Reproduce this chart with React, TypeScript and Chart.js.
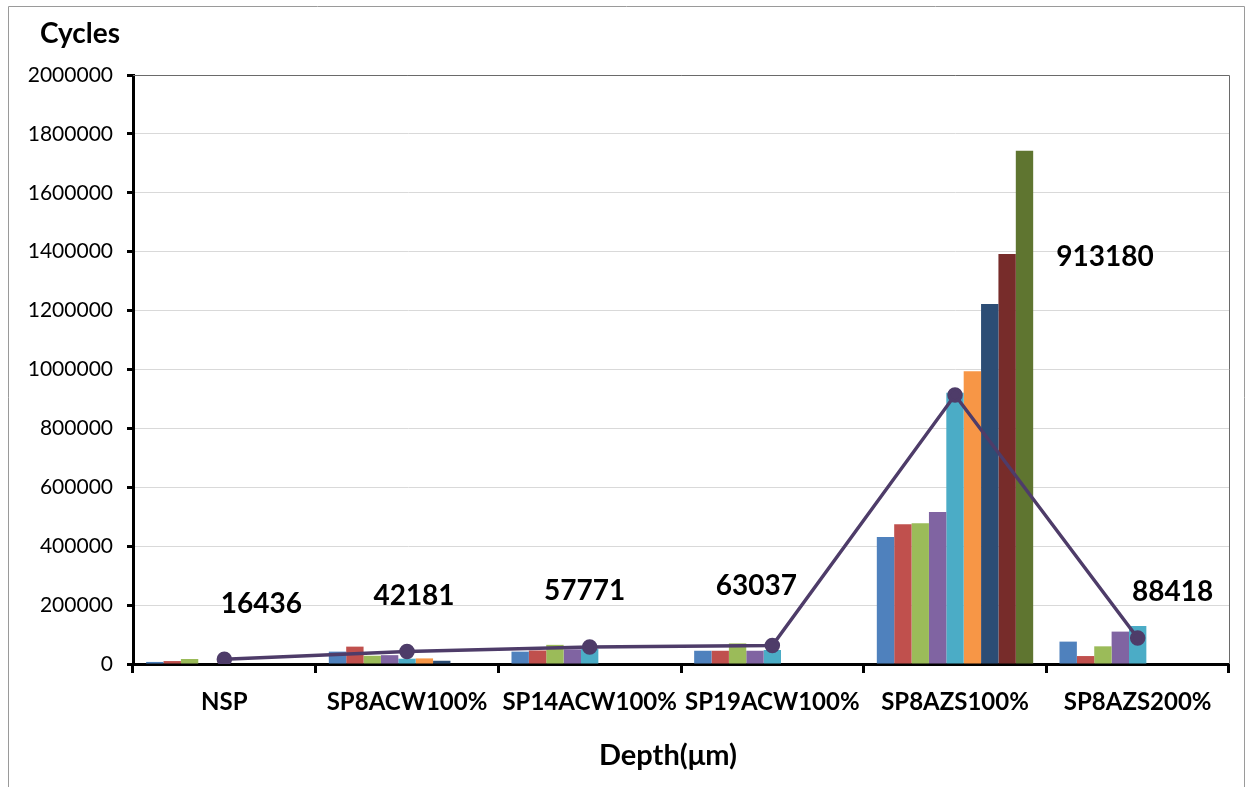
import { useEffect, useRef } from 'react';
import { Chart, registerables } from 'chart.js';

Chart.register(...registerables);

// Sample groups along the x axis
const categories = ['NSP', 'SP8ACW100%', 'SP14ACW100%', 'SP19ACW100%', 'SP8AZS100%', 'SP8AZS200%'];

// Individual depth series (cycles); null where a group has no such specimen
const series1 = [7000, 42000, 42000, 45000, 431500, 76000];
const series2 = [10000, 59000, 46000, 45000, 474600, 27000];
const series3 = [17000, 28000, 65000, 70000, 478000, 60000];
const series4 = [null, 30000, 50000, 45000, 516300, 110000];
const series5 = [null, 18000, 52000, 47500, 921000, 129000];
const series6 = [null, 19000, null, null, 994300, null];
const series7 = [null, 11000, null, null, 1222800, null];
const series8 = [null, null, null, null, 1392300, null];
const series9 = [null, null, null, null, 1742500, null];

// Mean cycles per group (line with labels)
const meanCycles = [16436, 42181, 57771, 63037, 913180, 88418];

// Y axis
const yMin = 0;
const yMax = 2000000;
const yStep = 200000;

const barSeries = [series1, series2, series3, series4, series5, series6, series7, series8, series9];
const barColors = ['#4F81BD', '#C0504D', '#9BBB59', '#8064A2', '#4BACC6', '#F79646', '#2C4D75', '#772C2A', '#5F7530'];
const lineColor = '#4E3C69';

// Pixel offsets of each mean label from its point
const labelOffsets: [number, number][] = [
  [37, -55],
  [7, -56],
  [-5, -56],
  [-16, -59],
  [150, -138],
  [35, -46],
];

const FONT = 'Lato, "Open Sans", sans-serif';

const decorations = {
  id: 'decorations',
  afterDatasetsDraw(chart: any) {
    const { ctx, chartArea } = chart;
    ctx.save();

    // plot area border (top and right side)
    ctx.strokeStyle = '#6a6a6a';
    ctx.lineWidth = 1;
    ctx.beginPath();
    ctx.moveTo(chartArea.left, chartArea.top + 0.5);
    ctx.lineTo(chartArea.right + 0.5, chartArea.top + 0.5);
    ctx.lineTo(chartArea.right + 0.5, chartArea.bottom);
    ctx.stroke();

    // outer frame
    ctx.strokeStyle = '#9a9a9a';
    ctx.beginPath();
    ctx.moveTo(8.5, 800);
    ctx.lineTo(8.5, 6.5);
    ctx.lineTo(1244.5, 6.5);
    ctx.lineTo(1244.5, 800);
    ctx.stroke();

    // mean labels
    const meta = chart.getDatasetMeta(0);
    ctx.fillStyle = '#000';
    ctx.font = `bold 28px ${FONT}`;
    ctx.textAlign = 'center';
    ctx.textBaseline = 'middle';
    meta.data.forEach((pt: any, i: number) => {
      const [dx, dy] = labelOffsets[i];
      ctx.fillText(String(meanCycles[i]), pt.x + dx, pt.y + dy);
    });

    // axis titles
    ctx.font = `bold 28px ${FONT}`;
    ctx.fillText('Cycles', 80, 34);
    ctx.font = `bold 29px ${FONT}`;
    ctx.fillText('Depth(μm)', 668, 756);

    ctx.restore();
  },
};

export default function App() {
  const ref = useRef<HTMLCanvasElement>(null);

  useEffect(() => {
    const datasets: any[] = [
      {
        type: 'line',
        label: 'Mean',
        data: meanCycles,
        borderColor: lineColor,
        backgroundColor: lineColor,
        borderWidth: 3.5,
        pointRadius: 6,
        pointBackgroundColor: lineColor,
        pointBorderColor: lineColor,
        order: 0,
      },
      ...barSeries.map((data, i) => ({
        type: 'bar',
        label: `Depth ${i + 1}`,
        data,
        backgroundColor: barColors[i],
        borderWidth: 0,
        barPercentage: 1,
        categoryPercentage: 0.856,
        order: 1,
      })),
    ];

    const chart = new Chart(ref.current!, {
      type: 'bar',
      data: { labels: categories, datasets },
      options: {
        animation: false,
        responsive: true,
        maintainAspectRatio: false,
        layout: { padding: { top: 75, right: 23, bottom: 0, left: 0 } },
        plugins: {
          legend: { display: false },
          tooltip: { enabled: false },
        },
        scales: {
          x: {
            offset: true,
            grid: {
              offset: true,
              drawOnChartArea: false,
              drawTicks: true,
              tickLength: 9,
              tickColor: '#000',
              tickWidth: 3,
            },
            border: { color: '#000', width: 3 },
            ticks: {
              color: '#000',
              font: { family: FONT, size: 24, weight: 'bold' },
              padding: 15,
              maxRotation: 0,
              autoSkip: false,
            },
            afterFit: (s: any) => {
              s.height = 123;
            },
          },
          y: {
            min: yMin,
            max: yMax,
            ticks: {
              stepSize: yStep,
              color: '#000',
              font: { family: FONT, size: 21 },
              padding: 14,
              callback: (v: any) => String(v),
            },
            grid: {
              color: '#d9d9d9',
              lineWidth: 1,
              tickLength: 6,
              tickColor: '#000',
              tickWidth: 3,
            },
            border: { color: '#000', width: 3 },
            afterFit: (s: any) => {
              s.width = 133;
            },
          },
        },
      },
      plugins: [decorations],
    });

    return () => chart.destroy();
  }, []);

  return (
    <div style={{ position: 'absolute', left: 0, top: 0, width: 1252, height: 787 }}>
      <canvas ref={ref} />
    </div>
  );
}
